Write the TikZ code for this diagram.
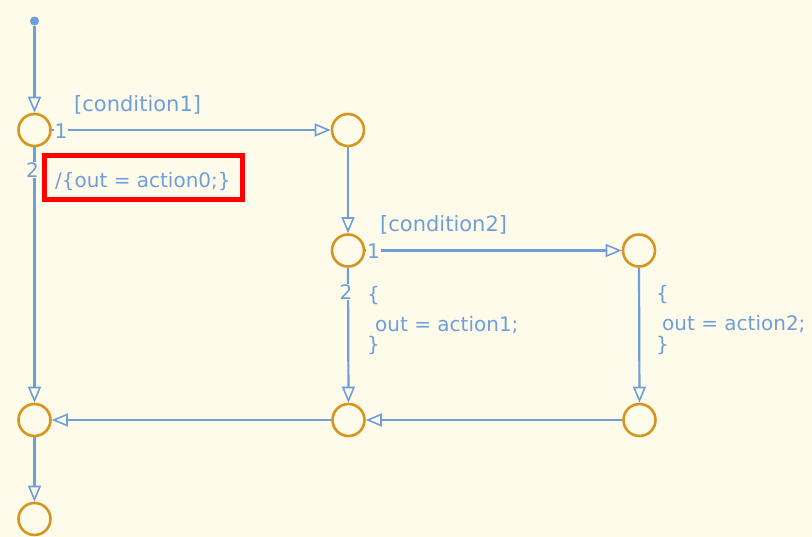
\documentclass[tikz,border=0pt]{standalone}
\usepackage{fontspec}
\setmainfont{DejaVu Sans}
\usetikzlibrary{arrows.meta}
\definecolor{bgc}{HTML}{FFFBEB}
\definecolor{linec}{HTML}{6E9FD8}
\definecolor{junc}{HTML}{D4961E}
\begin{document}
\begin{tikzpicture}[x=1pt,y=-1pt,
  junction/.style={circle,draw=junc,line width=2.6pt,minimum size=32pt,inner sep=0pt},
  trans/.style={draw=linec,line width=2.2pt,-{Triangle[open,length=16pt,width=13pt,line width=1.6pt]}},
  lbl/.style={text=linec,font=\fontsize{20}{24}\selectfont,inner sep=0pt},
  cond/.style={text=linec,font=\fontsize{21}{25}\selectfont,inner sep=0pt},
  num/.style={lbl,fill=bgc,inner sep=1pt}]
\fill[bgc] (0,0) rectangle (812,537);
\useasboundingbox (0,0) rectangle (812,537);
% default transition dot
\node[circle,fill=linec,inner sep=0pt,minimum size=9pt] (dot) at (34.5,21) {};
% junctions
\node[junction] (j1) at (34.5,130) {};
\node[junction] (j2) at (348,130) {};
\node[junction] (j3) at (348,250.5) {};
\node[junction] (j4) at (639,250.5) {};
\node[junction] (j5) at (34.5,420) {};
\node[junction] (j6) at (348.5,420) {};
\node[junction] (j7) at (639.5,420) {};
\node[junction] (j8) at (34.5,519) {};
% transitions
\draw[trans] (dot) -- (j1);
\draw[trans] (j1.east) -- (j2.west);
\draw[trans] (j2.south) -- (j3.north);
\draw[trans] (j3.east) -- (j4.west);
\draw[trans] (j4.south) -- (j7.north);
\draw[trans] (j3.south) -- (j6.north);
\draw[trans] (j1.south) -- (j5.north);
\draw[trans] (j7.west) -- (j6.east);
\draw[trans] (j6.west) -- (j5.east);
\draw[trans] (j5.south) -- (j8.north);
% execution order numbers
\node[num] (n11) at (61,131) {1};
\node[num] (n12) at (32.5,170) {2};
\node[num] (n31) at (373.5,251.5) {1};
\node[num] (n32) at (346,292) {2};
% labels
\node[cond,anchor=west] (c1) at (74,105) {[condition1]};
\node[cond,anchor=west] (c2) at (380,225) {[condition2]};
\node[lbl,anchor=west] (a0) at (55,182) {/\{out = action0;\}};
\node[lbl,anchor=west] (b1o) at (367,296) {\{};
\node[lbl,anchor=west] (a1) at (375,325) {out = action1;};
\node[lbl,anchor=west] (b1c) at (367,346) {\}};
\node[lbl,anchor=west] (b2o) at (656,295) {\{};
\node[lbl,anchor=west] (a2) at (662,324) {out = action2;};
\node[lbl,anchor=west] (b2c) at (656,346) {\}};
% highlight box
\draw[red,line width=4.5pt] (44.5,155.5) rectangle (242.5,199.5);
\end{tikzpicture}
\end{document}
